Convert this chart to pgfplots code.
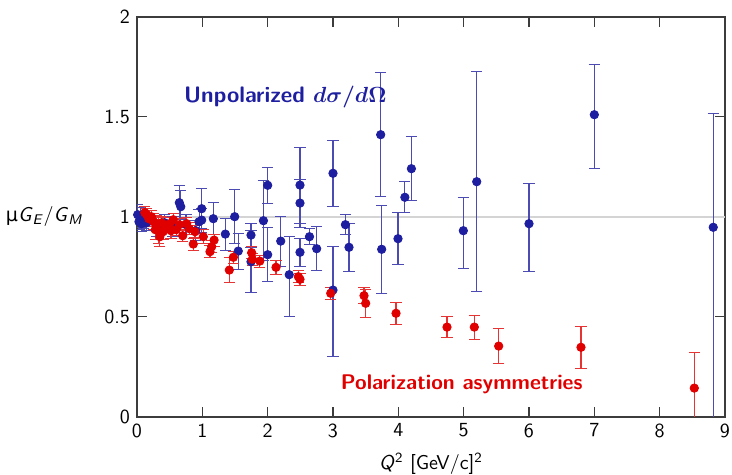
\documentclass[border=0pt]{standalone}
\usepackage{fontspec}
\usepackage{pgfplots}
\pgfplotsset{compat=1.18}
\renewcommand{\familydefault}{\sfdefault}
\newfontfamily\dejavu{DejaVu Sans}
\definecolor{bluept}{RGB}{30,30,160}
\definecolor{redpt}{RGB}{224,0,0}
\definecolor{axgray}{RGB}{60,60,60}
\begin{document}
\begin{tikzpicture}
\begin{axis}[
  scale only axis, width=294pt, height=200pt,
  xmin=0, xmax=9, ymin=0, ymax=2,
  xtick={0,1,...,9}, ytick={0,0.5,1,1.5,2},
  /pgf/number format/assume math mode=true,
  tick label style={font=\sffamily},
  tick align=inside, tick pos=both,
  major tick length=5pt,
  axis line style={axgray, line width=0.9pt},
  every tick/.style={axgray, line width=0.7pt},
  xlabel={\textit{Q}\textsuperscript{2} [GeV/c]\textsuperscript{2}},
  every axis x label/.style={at={(axis description cs:0.5,0)}, anchor=north, yshift=-14.5pt},
  ylabel={{\dejavu\fontsize{9.5}{10}\selectfont μ}\textit{G}\textsubscript{\textit{E}}/\textit{G}\textsubscript{\textit{M}}},
  every axis y label/.style={at={(axis description cs:-0.08,0.5)}, anchor=east},
  clip=true,
]
\addplot[color=black!17, line width=1pt, forget plot] coordinates {(0,1) (9,1)};
\addplot[only marks, mark=*, mark size=2.1pt, color=bluept,
  error bars/.cd, y dir=both, y explicit,
  error bar style={line width=0.55pt, color=bluept!80!white},
  error mark options={rotate=90, mark size=2.8pt, line width=0.55pt, color=bluept!80!white}]
 table[x=x, y=y, y error plus=ep, y error minus=em] {
x y ep em
0.01 1.01 0.05 0.05
0.03 0.975 0.04 0.04
0.05 0.995 0.05 0.05
0.07 0.965 0.04 0.04
0.10 0.98 0.04 0.04
0.15 0.97 0.04 0.04
0.30 0.95 0.05 0.05
0.42 0.97 0.04 0.04
0.55 0.95 0.05 0.05
0.648 1.07 0.085 0.085
0.67 1.05 0.08 0.08
0.75 0.96 0.05 0.05
0.90 0.93 0.05 0.05
0.95 0.975 0.06 0.06
0.99 1.04 0.10 0.10
0.99 0.983 0.06 0.06
1.168 0.99 0.08 0.08
1.352 0.913 0.08 0.08
1.495 1.00 0.135 0.135
1.55 0.828 0.09 0.09
1.745 0.908 0.06 0.06
1.745 0.775 0.155 0.155
1.935 0.98 0.2 0.2
2.0 1.157 0.09 0.09
2.0 0.81 0.135 0.135
2.2 0.878 0.125 0.125
2.33 0.71 0.19 0.21
2.495 1.158 0.19 0.19
2.495 1.068 0.12 0.12
2.495 0.822 0.07 0.07
2.64 0.90 0.04 0.04
2.75 0.84 0.11 0.11
3.0 1.217 0.165 0.165
3.0 0.633 0.22 0.33
3.19 0.96 0.05 0.05
3.245 0.847 0.12 0.12
3.73 1.41 0.31 0.31
3.745 0.837 0.22 0.22
3.995 0.89 0.13 0.13
4.10 1.097 0.077 0.077
4.20 1.24 0.16 0.16
4.995 0.93 0.165 0.19
5.2 1.175 0.55 0.55
6.0 0.965 0.20 0.24
7.0 1.51 0.25 0.27
8.82 0.947 0.57 1.0
};
\addplot[only marks, mark=*, mark size=2.1pt, color=redpt,
  error bars/.cd, y dir=both, y explicit,
  error bar style={line width=0.55pt, color=redpt!80!white},
  error mark options={rotate=90, mark size=2.8pt, line width=0.55pt, color=redpt!80!white}]
 table[x=x, y=y, y error=e] {
x y e
0.12 1.02 0.03
0.15 1.01 0.03
0.18 0.99 0.04
0.22 1.00 0.03
0.25 0.975 0.04
0.28 0.935 0.05
0.30 0.965 0.04
0.33 0.93 0.065
0.35 0.90 0.05
0.38 0.97 0.03
0.40 0.925 0.04
0.45 0.95 0.03
0.50 0.965 0.03
0.52 0.93 0.04
0.556 0.985 0.03
0.60 0.935 0.03
0.65 0.96 0.03
0.70 0.905 0.03
0.76 0.965 0.03
0.80 0.94 0.03
0.862 0.863 0.03
0.888 0.925 0.03
1.015 0.90 0.035
1.117 0.825 0.03
1.143 0.85 0.03
1.18 0.883 0.03
1.413 0.733 0.063
1.475 0.797 0.03
1.755 0.82 0.03
1.765 0.787 0.03
1.88 0.778 0.03
2.128 0.747 0.035
2.47 0.70 0.03
2.495 0.687 0.03
2.965 0.617 0.03
3.475 0.605 0.04
3.50 0.567 0.07
3.965 0.517 0.055
4.745 0.448 0.052
5.163 0.448 0.06
5.536 0.353 0.087
6.796 0.347 0.105
8.53 0.143 0.177
};
\node[color=bluept, font=\fontsize{11.2}{13}\selectfont\bfseries\boldmath] at (axis cs:2.27,1.6) {Unpolarized $d\sigma/d\Omega$};
\node[color=redpt, font=\fontsize{10.6}{13}\selectfont\bfseries] at (axis cs:4.97,0.163) {Polarization asymmetries};
\end{axis}
\pgfresetboundingbox
\path[use as bounding box] (-68.5pt,-29.15pt) rectangle (297.5pt,208.35pt);
\end{tikzpicture}
\end{document}
